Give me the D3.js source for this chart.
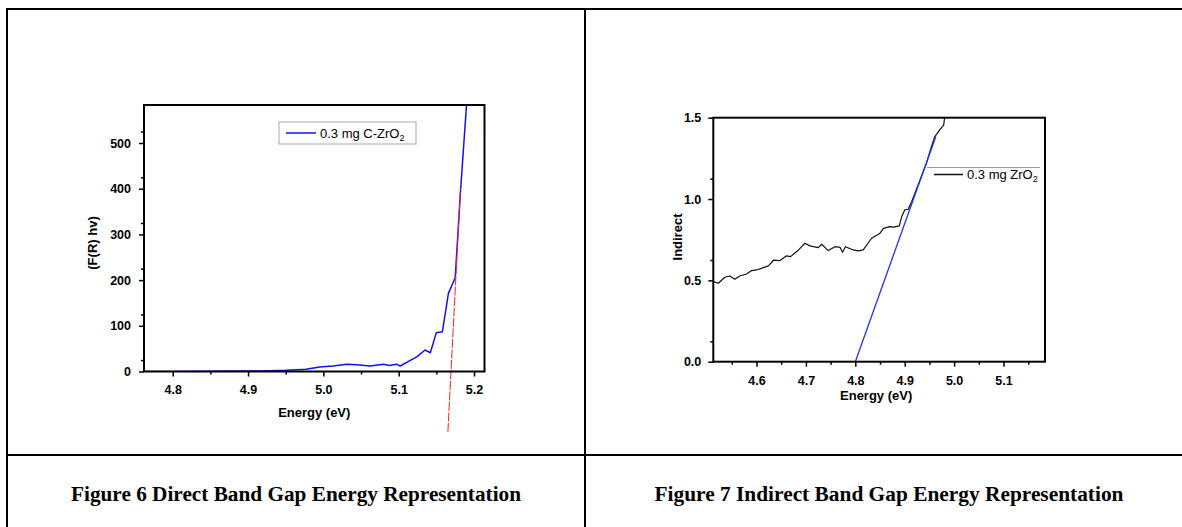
<!DOCTYPE html>
<html>
<head>
<meta charset="utf-8">
<script src="https://cdn.jsdelivr.net/npm/d3@7"></script>
<style>
  body { margin: 0; background: #fff; }
  svg { display: block; }
</style>
</head>
<body>
<svg id="page" width="1182" height="527"></svg>
<script>
// Figure 6 - direct band gap, (F(R) hv) vs energy
let directEnergy = [4.762, 4.80, 4.85, 4.90, 4.93, 4.95, 4.965, 4.977, 4.995, 5.013, 5.031, 5.044, 5.062, 5.080, 5.088, 5.097, 5.102, 5.113, 5.124, 5.135, 5.142, 5.150, 5.158, 5.166, 5.175, 5.182, 5.190];
let directFR = [0, 0, 0.5, 1, 1.5, 2.5, 4, 5, 10, 12, 16, 15, 12, 16, 13, 16, 12, 22, 32, 47, 41, 85, 87, 171, 205, 393, 583];
let directFitEnergy = [5.1653, 5.182];
let directFitValue = [-132, 401];
let directXTicks = [4.8, 4.9, 5.0, 5.1, 5.2];
let directYTicks = [0, 100, 200, 300, 400, 500];

// Figure 7 - indirect band gap
let indirectEnergy = [4.5125, 4.5226, 4.536, 4.546, 4.556, 4.566, 4.580, 4.590, 4.600, 4.610, 4.624, 4.635, 4.647, 4.660, 4.669, 4.685, 4.698, 4.708, 4.725, 4.732, 4.745, 4.759, 4.769, 4.774, 4.780, 4.796, 4.806, 4.816, 4.833, 4.850, 4.857, 4.870, 4.877, 4.889, 4.894, 4.900, 4.907, 4.914, 4.931, 4.944, 4.954, 4.961, 4.971, 4.979, 4.981];
let indirectValue = [0.492, 0.482, 0.519, 0.527, 0.507, 0.527, 0.539, 0.560, 0.564, 0.574, 0.589, 0.625, 0.621, 0.650, 0.646, 0.687, 0.728, 0.712, 0.701, 0.722, 0.683, 0.707, 0.703, 0.673, 0.707, 0.687, 0.681, 0.687, 0.759, 0.790, 0.820, 0.830, 0.827, 0.835, 0.892, 0.933, 0.937, 0.984, 1.117, 1.220, 1.322, 1.384, 1.425, 1.456, 1.507];
let indirectFitEnergy = [4.8, 4.963];
let indirectFitValue = [0.0, 1.384];
let indirectXTicks = [4.6, 4.7, 4.8, 4.9, 5.0, 5.1];
let indirectYTicks = [0.0, 0.5, 1.0, 1.5];

let captions = ["Figure 6 Direct Band Gap Energy Representation", "Figure 7 Indirect Band Gap Energy Representation"];

let sans = "'Liberation Sans', Arial, sans-serif";
let serif = "'Liberation Serif', 'Times New Roman', serif";

let svg = d3.select("#page");

// table grid round the two figures
let grid = svg.append("g").attr("stroke", "#000").attr("stroke-width", 2);
grid.append("line").attr("x1", 6).attr("x2", 1182).attr("y1", 9).attr("y2", 9);
grid.append("line").attr("x1", 7).attr("x2", 7).attr("y1", 8).attr("y2", 527);
grid.append("line").attr("x1", 585).attr("x2", 585).attr("y1", 8).attr("y2", 527);
grid.append("line").attr("x1", 6).attr("x2", 1182).attr("y1", 455).attr("y2", 455);

/**
* drawPanel
* Draws one framed plot with its curve, fit line and legend.
*
* @name drawPanel
* @function
* @param {Object} p panel settings
*/
function drawPanel(p) {
  let x = d3.scaleLinear().domain(p.xDomain).range([p.left, p.right]);
  let y = d3.scaleLinear().domain(p.yDomain).range([p.bottom, p.top]);

  let g = svg.append("g");
  let clipId = p.id + "-clip";
  g.append("clipPath").attr("id", clipId)
    .append("rect")
    .attr("x", p.left).attr("y", p.top)
    .attr("width", p.right - p.left).attr("height", p.bottom - p.top);

  let tickStyle = function(sel) {
    sel.select(".domain").remove();
    sel.selectAll(".tick line").attr("stroke", "#000").attr("stroke-width", 1.5);
    sel.selectAll("text")
      .attr("fill", "#000")
      .style("font-family", sans)
      .style("font-size", "12.5px")
      .style("font-weight", "bold");
  };

  // minor ticks half way between the majors
  let xMinor = p.xTicks.map(function(d) { return d - p.xStep / 2; })
        .concat([p.xTicks[p.xTicks.length - 1] + p.xStep / 2])
        .filter(function(d) { return d >= p.xDomain[0] && d <= p.xDomain[1]; });
  let yMinor = p.yTicks.map(function(d) { return d + p.yStep / 2; })
        .filter(function(d) { return d >= p.yDomain[0] && d <= p.yDomain[1]; });

  g.append("g")
    .attr("transform", "translate(0," + p.bottom + ")")
    .call(d3.axisBottom(x).tickValues(xMinor).tickSize(3).tickSizeOuter(0).tickFormat(""))
    .call(tickStyle);
  g.append("g")
    .attr("transform", "translate(0," + p.bottom + ")")
    .call(d3.axisBottom(x).tickValues(p.xTicks).tickSize(5).tickPadding(9).tickSizeOuter(0).tickFormat(d3.format(".1f")))
    .call(tickStyle);
  g.append("g")
    .attr("transform", "translate(" + p.left + ",0)")
    .call(d3.axisLeft(y).tickValues(yMinor).tickSize(3).tickSizeOuter(0).tickFormat(""))
    .call(tickStyle);
  g.append("g")
    .attr("transform", "translate(" + p.left + ",0)")
    .call(d3.axisLeft(y).tickValues(p.yTicks).tickSize(5).tickPadding(p.yPad).tickSizeOuter(0).tickFormat(d3.format(p.yFormat)))
    .call(tickStyle);

  let line = d3.line()
        .x(function(d) { return x(d[0]); })
        .y(function(d) { return y(d[1]); });

  g.append("path")
    .datum(d3.zip(p.energy, p.value))
    .attr("clip-path", "url(#" + clipId + ")")
    .attr("d", line)
    .attr("fill", "none")
    .attr("stroke", p.curveColor)
    .attr("stroke-width", p.curveWidth)
    .attr("stroke-linejoin", "round");

  g.append("path")
    .datum(d3.zip(p.fitEnergy, p.fitValue))
    .attr("d", line)
    .attr("fill", "none")
    .attr("stroke", p.fitColor)
    .attr("stroke-width", p.fitWidth)
    .attr("stroke-dasharray", p.fitDash);

  // frame
  g.append("rect")
    .attr("x", p.left).attr("y", p.top)
    .attr("width", p.right - p.left).attr("height", p.bottom - p.top)
    .attr("fill", "none")
    .attr("stroke", "#000")
    .attr("stroke-width", 2);

  //Labels
  g.append("text")
    .attr("x", (p.left + p.right) / 2 + p.xLabelShift)
    .attr("y", p.xLabelY)
    .attr("text-anchor", "middle")
    .style("font-family", sans).style("font-size", "13px").style("font-weight", "bold")
    .text("Energy (eV)");
  g.append("text")
    .attr("transform", "translate(" + p.yLabelX + "," + p.yLabelY + ") rotate(-90)")
    .attr("text-anchor", "middle")
    .attr("dy", "0.35em")
    .style("font-family", sans).style("font-size", "13px").style("font-weight", "bold")
    .text(p.yLabel);

  // legend
  let lg = p.legend;
  if (lg.box) {
    g.append("rect")
      .attr("x", lg.box[0]).attr("y", lg.box[1]).attr("width", lg.box[2]).attr("height", lg.box[3])
      .attr("fill", "#fff").attr("stroke", "#aaa").attr("stroke-width", 1);
  }
  if (lg.rule) {
    g.append("line")
      .attr("x1", lg.rule[0]).attr("x2", lg.rule[1]).attr("y1", lg.rule[2]).attr("y2", lg.rule[2])
      .attr("stroke", "#999").attr("stroke-width", 1);
  }
  g.append("line")
    .attr("x1", lg.x).attr("x2", lg.x + lg.len).attr("y1", lg.y).attr("y2", lg.y)
    .attr("stroke", p.curveColor).attr("stroke-width", 1.5);
  let t = g.append("text")
    .attr("x", lg.x + lg.len + 4)
    .attr("y", lg.y + 4.5)
    .style("font-family", sans).style("font-size", "13px");
  t.append("tspan").text(lg.label);
  t.append("tspan").attr("dy", 3).style("font-size", "9px").text("2");
}

drawPanel({
  id: "direct",
  left: 144, right: 484.5, top: 105, bottom: 371.5,
  xDomain: [4.7619, 5.2139], yDomain: [0, 583.2],
  xTicks: directXTicks, yTicks: directYTicks, xStep: 0.1, yStep: 50,
  yFormat: "d", yPad: 8,
  energy: directEnergy, value: directFR,
  fitEnergy: directFitEnergy, fitValue: directFitValue,
  curveColor: "#1010ff", curveWidth: 1.5,
  fitColor: "#ff2020", fitWidth: 1, fitDash: "9,1.5",
  yLabel: "(F(R) hv)", yLabelX: 92, yLabelY: 243,
  xLabelY: 416.5, xLabelShift: 0,
  legend: { box: [279, 122, 137, 22], x: 286, y: 133, len: 30, label: "0.3 mg C-ZrO" }
});

drawPanel({
  id: "indirect",
  left: 713.3, right: 1045, top: 117.7, bottom: 361.7,
  xDomain: [4.5125, 5.184], yDomain: [0, 1.5],
  xTicks: indirectXTicks, yTicks: indirectYTicks, xStep: 0.1, yStep: 0.25,
  yFormat: ".1f", yPad: 7,
  energy: indirectEnergy, value: indirectValue,
  fitEnergy: indirectFitEnergy, fitValue: indirectFitValue,
  curveColor: "#111", curveWidth: 1.2,
  fitColor: "#2233ee", fitWidth: 1.3, fitDash: null,
  yLabel: "Indirect", yLabelX: 677, yLabelY: 237,
  xLabelY: 400, xLabelShift: -3,
  legend: { rule: [927, 1040, 167.5], x: 934, y: 174.5, len: 29, label: "0.3 mg ZrO" }
});

// captions under each figure
svg.selectAll(".caption")
  .data(captions)
  .enter().append("text")
  .attr("class", "caption")
  .attr("x", function(d, i) { return i === 0 ? 296 : 889; })
  .attr("y", 501)
  .attr("text-anchor", "middle")
  .attr("textLength", function(d, i) { return i === 0 ? 450 : 469; })
  .attr("lengthAdjust", "spacingAndGlyphs")
  .style("font-family", serif)
  .style("font-size", "20.5px")
  .style("font-weight", "bold")
  .text(function(d) { return d; });
</script>
</body>
</html>
